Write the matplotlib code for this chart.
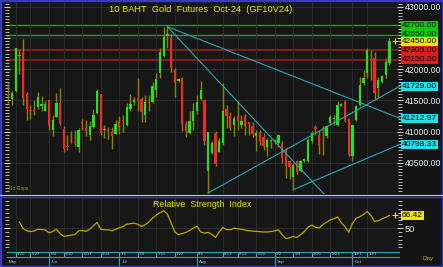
import numpy as np
import matplotlib
matplotlib.use("Agg")
import matplotlib.pyplot as plt
import matplotlib.transforms as mtransforms
from matplotlib.lines import Line2D
from matplotlib.patches import Rectangle
from matplotlib.ticker import MultipleLocator

plt.rcParams['font.family'] = ['Liberation Sans', 'DejaVu Sans']

# daily candles, one per trading day (index 0 = 5/16)
opens = [41590, 41520, 41653, 42220, 42281, 41605, 41345, 41339, 41387, 41425,
         41333, 41509, 41030, 41227, 41451, 41046, 40760, 40860, 40835, 40748,
         41152, 41057, 40950, 41067, 41296, 41605, 41037, 41018, 40987, 40961,
         41174, 41178, 41110, 41365, 41490, 41522, 41520, 41270, 41475, 41467,
         41669, 41935, 42217, 42540, 42494, 41988, 41820, 41855, 41120, 40977,
         41174, 41323, 41525, 41509, 40364, 40657, 40977, 40673, 40817, 41360,
         41254, 41110, 41243, 41110, 41243, 41140, 41094, 40923, 40993, 40907,
         40748, 40850, 40840, 40817, 40817, 40684, 40524, 40268, 40524, 40364,
         40524, 40524, 40844, 41060, 40939, 40990, 40923, 41136, 41215, 41110,
         41425, 41498, 41206, 40604, 41190, 41429, 41775, 41935, 42170, 42185,
         41706, 41802, 41908, 42095]
highs = [41802, 41653, 42340, 42319, 42478, 41632, 41419, 41509, 41632, 41573,
         41493, 41509, 41270, 41616, 41706, 41083, 40939, 41014, 41030, 41057,
         41200, 41190, 41163, 41365, 41685, 41605, 41110, 41067, 41067, 41190,
         41243, 41270, 41456, 41600, 41562, 41855, 41562, 41589, 41589, 41802,
         41935, 42335, 42681, 42681, 42574, 42015, 41855, 41882, 41174, 41323,
         41456, 41589, 41813, 41509, 40993, 40844, 41003, 40897, 41775, 41429,
         41312, 41243, 41493, 41270, 41280, 41152, 41147, 41030, 41030, 40977,
         40897, 40886, 40890, 40950, 40844, 40737, 40540, 40497, 40551, 40551,
         40577, 40897, 41003, 41110, 41030, 41083, 41110, 41270, 41270, 41483,
         41456, 41509, 41216, 41110, 41429, 41882, 41988, 42335, 42300, 42281,
         41882, 41908, 42175, 42494]
lows = [41456, 41419, 41642, 41919, 41419, 41190, 41200, 41270, 41365, 41323,
        41323, 41030, 40923, 41227, 41110, 40668, 40710, 40817, 40774, 40668,
        41030, 40923, 40870, 41057, 41280, 40950, 40897, 40881, 40721, 40961,
        40961, 40987, 41094, 41323, 41430, 41323, 41152, 41152, 41323, 41456,
        41562, 41866, 42201, 42335, 41951, 41562, 41802, 41003, 40907, 40961,
        41030, 41280, 41509, 40790, 40018, 40641, 40444, 40673, 40790, 41057,
        41030, 40923, 41030, 41057, 40950, 40950, 40907, 40694, 40780, 40710,
        40604, 40737, 40800, 40748, 40497, 40258, 40247, 40071, 40322, 40354,
        40513, 40513, 40817, 40950, 40641, 40631, 40897, 41110, 41110, 41083,
        41403, 41152, 40604, 40524, 41163, 41403, 41749, 41855, 41830, 41509,
        41562, 41775, 41855, 42068]
closes = [41580, 41616, 42335, 42228, 41536, 41365, 41339, 41335, 41562, 41429,
          41440, 41094, 41184, 41451, 41120, 40726, 40758, 40854, 40828, 41030,
          41147, 41003, 41094, 41270, 41648, 40977, 41041, 41014, 40923, 41126,
          41057, 41174, 41392, 41445, 41494, 41520, 41307, 41467, 41465, 41733,
          41839, 42281, 42521, 42560, 42026, 41786, 41829, 41120, 41003, 41174,
          41323, 41467, 41669, 40844, 40993, 40817, 40487, 40844, 41333, 41254,
          41057, 41216, 41174, 41174, 41083, 41136, 40966, 40977, 40854, 40764,
          40870, 40860, 40870, 40939, 40577, 40444, 40428, 40471, 40354, 40524,
          40567, 40870, 40977, 41057, 40780, 40985, 41083, 41227, 41216, 41429,
          41430, 41163, 40631, 41099, 41403, 41749, 41855, 42308, 42140, 41616,
          41829, 41893, 42122, 42450]

# RSI, starting at candle 3
rsi_start = 3
rsi_values = [57.7, 49.5, 46.5, 45.5, 46.3, 48.5, 48.2, 47.6, 44.0, 45.5,
              48.6, 43.0, 39.3, 40.0, 40.8, 41.5, 46.5, 47.0, 45.8, 48.5,
              53.0, 57.5, 48.5, 47.8, 47.8, 46.6, 48.5, 50.5, 52.0, 55.0,
              55.8, 56.3, 55.0, 52.1, 54.5, 58.0, 63.0, 67.0, 70.0, 72.5,
              68.0, 57.0, 45.0, 41.5, 43.0, 44.5, 47.0, 49.9, 52.5, 45.0,
              43.5, 44.5, 42.0, 38.0, 45.0, 50.8, 48.0, 47.8, 49.9, 49.2,
              48.6, 47.5, 46.5, 46.2, 45.8, 45.4, 44.9, 45.0, 45.6, 46.5,
              47.8, 41.5, 36.5, 37.5, 39.1, 37.8, 41.5, 45.6, 51.0, 54.0,
              51.0, 50.0, 54.5, 57.5, 60.8, 62.0, 64.5, 57.0, 52.0, 44.8,
              56.0, 62.5, 65.0, 67.5, 71.6, 66.4, 58.6, 59.5, 62.0, 64.0, 66.42]

# horizontal levels
green_levels = [42700, 42550]
red_levels = [42305, 42150]

# trend lines: (start idx, start price, end idx, end price)
x_right = 105.86
trend_lines = [
    (43, 42681, x_right, 41212.97),
    (43, 42681, 85.5, 39990),
    (54, 40018, x_right, 41729),
    (77, 40071, x_right, 40798.33),
]

day_ticks = [2, 6, 11, 15, 20, 25, 30, 35, 40, 45, 51, 58, 62, 67, 72, 77, 82, 87, 93, 97]
day_labels = ['5/20', '5/27', '6/4', '6/10', '6/17', '6/24', '7/1', '7/8', '7/15', '7/22',
              '8/1', '8/13', '8/19', '8/26', '9/2', '9/9', '9/16', '9/23', '10/1', '10/7']
month_ticks = [-0.4, 11, 30, 51, 72, 93]
month_labels = ['May', 'Jun', 'Jul', 'Aug', 'Sep', 'Oct']

price_ticks = [40500, 41000, 41500, 42000, 42500, 43000]
price_tick_labels = ['40500.00', '41000.00', '41500.00', '42000.00', '', '43000.00']

BG = '#171717'
GRID = '#2e2e2e'
GREEN = '#1ee61e'
RED = '#f02828'
WICK = '#8c8400'
CYAN = '#2aa8b0'
YELLOW = '#e8e800'
TXT = '#e0f4f4'
LABEL_FS = 6.0

W, H = 443, 267


def box(x0, y0, x1, y1):
    return [x0 / W, 1 - y1 / H, (x1 - x0) / W, (y1 - y0) / H]


fig = plt.figure(figsize=(W / 100, H / 100), dpi=100)
fig.patch.set_facecolor('#141414')
ax = fig.add_axes(box(6.7, 3, 400, 193.5))
rsi_ax = fig.add_axes(box(6.7, 198, 400, 250.5), sharex=ax)
date_ax = fig.add_axes(box(6.7, 250.5, 400, 266), sharex=ax)

for a in (ax, rsi_ax, date_ax):
    a.set_facecolor(BG)
    for s in a.spines.values():
        s.set_visible(False)

# ---- price panel ----
idx = np.arange(len(closes))
o = np.array(opens, float)
c = np.array(closes, float)
ax.vlines(idx, lows, highs, color=WICK, lw=1, zorder=2)
body = np.maximum(np.abs(c - o), 22)
ax.bar(idx, body, bottom=(o + c) / 2 - body / 2, width=0.62,
       color=np.where(c >= o, GREEN, RED), linewidth=0, zorder=3)

for lv in green_levels:
    ax.axhline(lv, color='#14a814', lw=1, zorder=1.5)
for lv in red_levels:
    ax.axhline(lv, color='#a01c1c', lw=1.2, zorder=1.5)

for x0, y0, x1, y1 in trend_lines:
    ax.plot([x0, x1], [y0, y1], color=CYAN, lw=0.8, zorder=4)

ax.plot(idx[-1] + 1.5, closes[-1], marker='+', color=YELLOW, ms=4, mew=0.8, zorder=5)

ax.set_xlim(-0.43, x_right)
ax.set_ylim(40010, 43060)
ax.set_yticks(price_ticks, labels=price_tick_labels)
ax.yaxis.set_minor_locator(MultipleLocator(50))
ax.set_xticks(day_ticks)
ax.grid(True, color=GRID, lw=0.6, zorder=0)
ax.tick_params(axis='y', which='both', left=True, right=True, labelleft=False,
               labelright=True, direction='inout', colors='#d0d0d0',
               labelcolor=TXT, labelsize=LABEL_FS + 0.2, pad=1)
ax.tick_params(axis='y', which='major', length=5)
ax.tick_params(axis='y', which='minor', length=3)
ax.tick_params(axis='x', bottom=False, labelbottom=False)

tag_tr = mtransforms.blended_transform_factory(ax.transAxes, ax.transData)


def tag(a, tr, y, text, bg):
    a.text(1.005, y, text, transform=tr, ha='left', va='center', fontsize=LABEL_FS,
           color='black', zorder=6,
           bbox=dict(boxstyle='square,pad=0.12', fc=bg, ec='none'))


for lv in green_levels:
    tag(ax, tag_tr, lv, f'{lv:.2f}', '#12c812')
for lv in red_levels:
    tag(ax, tag_tr, lv, f'{lv:.2f}', '#d82020')
tag(ax, tag_tr, closes[-1], f'{closes[-1]:.2f}', YELLOW)
for _, _, _, y1 in trend_lines:
    if y1 > 40010:
        tag(ax, tag_tr, y1, f'{y1:.2f}', '#22e0e8')

fig.text(201 / W, 1 - 9 / H, '10 BAHT  Gold  Futures  Oct-24  (GF10V24)',
         color=YELLOW, fontsize=6.7, ha='center', va='center')
ax.text(0.007, 0.012, 'No Gaps', transform=ax.transAxes, color='#9a9420',
        fontsize=3.5, ha='left', va='bottom')

# ---- RSI panel ----
rsi_x = np.arange(rsi_start, rsi_start + len(rsi_values))
rsi_ax.plot(rsi_x, rsi_values, color='#b8aa00', lw=0.9, zorder=3)
rsi_ax.plot(rsi_x[-1] + 1.5, rsi_values[-1], marker='+', color=YELLOW, ms=4, mew=0.8)
rsi_ax.set_ylim(21, 89)
rsi_ax.set_yticks([50], labels=['50'])
rsi_ax.yaxis.set_minor_locator(MultipleLocator(5))
rsi_ax.grid(True, color=GRID, lw=0.6, zorder=0)
rsi_ax.tick_params(axis='y', which='both', left=True, right=True, labelleft=False,
                   labelright=True, direction='inout', colors='#d0d0d0',
                   labelcolor=TXT, labelsize=LABEL_FS + 0.7, pad=1)
rsi_ax.tick_params(axis='y', which='major', length=5)
rsi_ax.tick_params(axis='y', which='minor', length=3)
rsi_ax.tick_params(axis='x', bottom=False, labelbottom=False)
rsi_tr = mtransforms.blended_transform_factory(rsi_ax.transAxes, rsi_ax.transData)
tag(rsi_ax, rsi_tr, rsi_values[-1], f'{rsi_values[-1]:.2f}', YELLOW)
rsi_ax.text(0.372, 0.87, 'Relative  Strength  Index', transform=rsi_ax.transAxes,
            color=YELLOW, fontsize=6.4, ha='left', va='center')

# ---- date strip ----
date_ax.set_ylim(0, 1)
date_ax.tick_params(left=False, bottom=False, labelleft=False, labelbottom=False)
date_ax.axhline(0.93, color=CYAN, lw=0.8)
date_ax.axhline(0.56, color=CYAN, lw=0.8)
date_ax.vlines(day_ticks, 0.56, 0.93, color=CYAN, lw=0.8)
date_ax.vlines(month_ticks[1:], 0.0, 0.93, color=CYAN, lw=0.8)
for x, t in zip(day_ticks, day_labels):
    date_ax.text(x + 0.35, 0.75, t, color='#a8cccc', fontsize=3.2, ha='left', va='center')
for x, t in zip(month_ticks, month_labels):
    date_ax.text(x + 0.6, 0.26, t, color='#a8cccc', fontsize=3.2, ha='left', va='center')

fig.text(428 / W, 1 - 258.5 / H, 'Day', color='#c0b020', fontsize=4.5,
         ha='center', va='center')

# panel separators and outer border
fig.add_artist(Line2D([0, 1], [1 - 195 / H] * 2, color='#c8c8f0', lw=0.8))
fig.add_artist(Line2D([0, 1], [1 - 196.8 / H] * 2, color='#3a3ad0', lw=1))
fig.add_artist(Rectangle((0, 0), 1, 1, transform=fig.transFigure, fill=False,
                         ec='#3a3ac0', lw=2.5))

fig.savefig('out.png', dpi=100, facecolor=fig.get_facecolor())
